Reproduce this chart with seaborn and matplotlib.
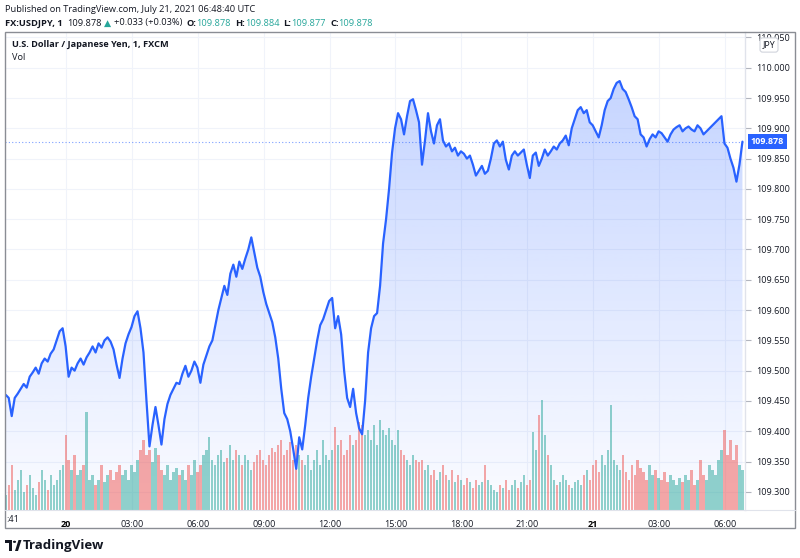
import numpy as np
import pandas as pd
import matplotlib
matplotlib.use("Agg")
import matplotlib.pyplot as plt
import matplotlib.dates as mdates
from matplotlib.patches import Rectangle, Polygon, Circle
from matplotlib.lines import Line2D
from matplotlib.colors import LinearSegmentedColormap
import seaborn as sns

prices = [
    109.460, 109.455, 109.425, 109.455, 109.462, 109.470, 109.478, 109.472, 109.490, 109.497,
    109.505, 109.495, 109.512, 109.520, 109.515, 109.528, 109.535, 109.550, 109.565, 109.570,
    109.540, 109.490, 109.505, 109.500, 109.512, 109.520, 109.510, 109.522, 109.530, 109.540,
    109.530, 109.545, 109.538, 109.550, 109.555, 109.548, 109.535, 109.510, 109.488, 109.520,
    109.545, 109.560, 109.572, 109.590, 109.598, 109.570, 109.530, 109.450, 109.375, 109.410,
    109.440, 109.410, 109.378, 109.420, 109.445, 109.460, 109.470, 109.480, 109.478, 109.495,
    109.508, 109.490, 109.500, 109.515, 109.505, 109.480, 109.510, 109.525, 109.540, 109.550,
    109.575, 109.600, 109.620, 109.640, 109.625, 109.660, 109.675, 109.655, 109.680, 109.668,
    109.685, 109.700, 109.720, 109.695, 109.670, 109.655, 109.630, 109.610, 109.595, 109.580,
    109.555, 109.520, 109.470, 109.430, 109.420, 109.400, 109.370, 109.338, 109.390, 109.370,
    109.410, 109.455, 109.490, 109.520, 109.550, 109.575, 109.585, 109.600, 109.615, 109.620,
    109.570, 109.590, 109.560, 109.500, 109.455, 109.440, 109.470, 109.430, 109.405, 109.395,
    109.450, 109.530, 109.570, 109.590, 109.595, 109.640, 109.710, 109.750, 109.800, 109.860,
    109.900, 109.925, 109.915, 109.890, 109.920, 109.945, 109.948, 109.930, 109.910, 109.840,
    109.880, 109.925, 109.895, 109.875, 109.905, 109.915, 109.880, 109.870, 109.875, 109.862,
    109.868, 109.855, 109.862, 109.858, 109.850, 109.855, 109.840, 109.822, 109.830, 109.838,
    109.825, 109.830, 109.850, 109.875, 109.880, 109.870, 109.878, 109.848, 109.832, 109.855,
    109.862, 109.855, 109.860, 109.865, 109.840, 109.818, 109.855, 109.860, 109.838, 109.850,
    109.865, 109.855, 109.862, 109.870, 109.865, 109.875, 109.880, 109.888, 109.872, 109.900,
    109.915, 109.930, 109.935, 109.925, 109.930, 109.910, 109.905, 109.895, 109.885, 109.905,
    109.930, 109.945, 109.950, 109.965, 109.975, 109.978, 109.965, 109.960, 109.948, 109.935,
    109.920, 109.915, 109.890, 109.885, 109.870, 109.882, 109.890, 109.885, 109.895, 109.892,
    109.885, 109.878, 109.890, 109.898, 109.902, 109.905, 109.895, 109.900, 109.903, 109.898,
    109.895, 109.905, 109.900, 109.890, 109.895, 109.900, 109.905, 109.910, 109.915, 109.920,
    109.875, 109.868, 109.850, 109.835, 109.812, 109.840, 109.878,
]

volumes = [
    15, 25, 45, 20, 30, 40, 18, 25, 35, 22, 15, 28, 40, 30, 20, 35, 25, 30, 40,
    45, 75, 50, 40, 55, 35, 40, 45, 98, 30, 35, 25, 30, 45, 28, 35, 40, 30, 38, 45,
    35, 40, 30, 45, 38, 50, 60, 70, 55, 60, 48, 62, 55, 40, 35, 45, 30, 38, 42, 35,
    40, 30, 45, 35, 50, 38, 45, 55, 60, 73, 50, 45, 55, 60, 48, 52, 65, 50, 60, 55,
    45, 55, 50, 40, 48, 55, 60, 50, 45, 55, 62, 58, 65, 70, 55, 60, 68, 50, 65, 55,
    50, 45, 55, 40, 50, 60, 45, 70, 55, 50, 60, 83, 65, 70, 55, 60, 75, 65, 70, 88,
    85, 75, 80, 70, 85, 65, 90, 80, 75, 82, 70, 65, 80, 60, 55, 50, 45, 55, 50, 48,
    50, 40, 45, 35, 40, 30, 38, 45, 35, 30, 40, 28, 35, 30, 25, 32, 28, 22, 30, 25,
    28, 45, 30, 25, 20, 18, 25, 22, 30, 20, 25, 30, 22, 28, 35, 25, 30, 78, 60, 95,
    110, 75, 55, 45, 30, 25, 28, 35, 30, 25, 22, 28, 30, 25, 35, 40, 30, 45, 50, 38,
    55, 45, 60, 105, 50, 45, 40, 55, 38, 30, 45, 35, 50, 42, 38, 30, 45, 35, 40, 32,
    30, 38, 28, 35, 30, 25, 32, 28, 35, 30, 40, 25, 30, 50, 35, 30, 45, 40, 35, 50,
    60, 80, 55, 70, 50, 65, 45, 40,
]

start_time = "2021-07-19 21:15"
end_time = "2021-07-21 06:48"

price_ticks = [109.300, 109.350, 109.400, 109.450, 109.500, 109.550, 109.600, 109.650,
               109.700, 109.750, 109.800, 109.850, 109.900, 109.950, 110.000, 110.050]
time_ticks = ["2021-07-20 00:00", "2021-07-20 03:00", "2021-07-20 06:00", "2021-07-20 09:00",
              "2021-07-20 12:00", "2021-07-20 15:00", "2021-07-20 18:00", "2021-07-20 21:00",
              "2021-07-21 00:00", "2021-07-21 03:00", "2021-07-21 06:00"]
time_labels = ["20", "03:00", "06:00", "09:00", "12:00", "15:00", "18:00", "21:00",
               "21", "03:00", "06:00"]
bold_labels = ["20", "21"]

last_price = 109.878

BLUE = "#2962FF"
UP = "#26A69A"
DOWN = "#EF5350"
TXT = "#131722"
GRID = "#F0F3FA"

sns.set_style("white")
plt.rcParams['font.family'] = ['Open Sans', 'DejaVu Sans']

W, H = 800, 558


def fx(x):
    return x / W


def fy(y):
    return 1 - y / H


df = pd.DataFrame({
    "time": pd.date_range(start_time, end_time, periods=len(prices)),
    "price": prices,
    "volume": volumes,
})
diff = df.price.diff().fillna(0)
bar_colors = [UP if d >= 0 else DOWN for d in diff]

fig = plt.figure(figsize=(8, 5.58), dpi=100)
rect = [fx(5), fy(510), (745 - 5) / W, (510 - 32) / H]

ax = fig.add_axes(rect)
vax = ax.twinx()
lax = ax.twinx()

x_lo = pd.Timestamp("2021-07-19 21:13")
x_hi = pd.Timestamp("2021-07-21 06:55")
y_lo, y_hi = 109.270, 110.059

# gradient area under the line
poly = ax.fill_between(df.time, df.price, y_lo, color="none")
grad = np.linspace(0, 1, 256).reshape(-1, 1)
cmap = LinearSegmentedColormap.from_list(
    "area", [(41 / 255, 98 / 255, 1, 0.02), (41 / 255, 98 / 255, 1, 0.27)])
img = ax.imshow(grad, cmap=cmap, aspect="auto", origin="lower", zorder=1,
                extent=[mdates.date2num(x_lo), mdates.date2num(x_hi), y_lo, 109.98])
img.set_clip_path(poly.get_paths()[0], transform=ax.transData)

ax.set_xlim(x_lo, x_hi)
ax.set_ylim(y_lo, y_hi)
ax.set_yticks(price_ticks)
ax.set_xticks(pd.to_datetime(time_ticks))
ax.set_xticklabels(time_labels)
ax.grid(True, color=GRID, linewidth=0.8)
ax.tick_params(axis="y", left=False, labelleft=False)
ax.tick_params(axis="x", bottom=False, labelsize=6.5, labelcolor=TXT, pad=4)
for lab in ax.get_xticklabels():
    if lab.get_text() in bold_labels:
        lab.set_fontweight("bold")
        lab.set_color("black")

# volume bars
spacing = (df.time.iloc[1] - df.time.iloc[0]) / pd.Timedelta(days=1)
vax.bar(df.time, df.volume, width=spacing * 0.75, color=bar_colors, alpha=0.5, linewidth=0)
vax.set_ylim(0, 478)
vax.set_yticks([])
vax.set_xlim(x_lo, x_hi)

# price line
sns.lineplot(data=df, x="time", y="price", ax=lax, color=BLUE, linewidth=1.6)
lax.axhline(last_price, color=BLUE, linestyle=(0, (1, 2)), linewidth=0.8, alpha=0.6)
lax.set_xlim(x_lo, x_hi)
lax.set_ylim(y_lo, y_hi)
lax.set_yticks(price_ticks)
lax.set_yticklabels([f"{p:.3f}" for p in price_ticks])
lax.set_xlabel("")
lax.set_ylabel("")
lax.tick_params(axis="y", right=True, length=4, width=0.8, color="#B2B5BE",
                labelsize=6.5, labelcolor=TXT, pad=4)

for a in (ax, vax, lax):
    for side in ("top", "left", "bottom"):
        a.spines[side].set_visible(False)
    a.spines["right"].set_color("#E0E3EB")
    a.spines["right"].set_linewidth(0.8)

# last price tag
lax.annotate(f"{last_price:.3f}", xy=(1.0, last_price), xycoords=("axes fraction", "data"),
             xytext=(4, 0), textcoords="offset points", va="center", ha="left",
             fontsize=6.5, color="white", fontweight="bold",
             bbox=dict(boxstyle="square,pad=0.3", fc=BLUE, ec="none"),
             annotation_clip=False)

# frame and separators
fig.add_artist(Rectangle((fx(5), fy(528)), (795 - 5) / W, (528 - 32) / H,
                         transform=fig.transFigure, fill=False, ec="#8A8D94", lw=1))
fig.add_artist(Line2D([fx(5), fx(795)], [fy(510), fy(510)],
                      transform=fig.transFigure, color="#E0E3EB", lw=0.8))

# JPY badge (sits over the top price label, as in the original)
fig.text(fx(769), fy(45), "JPY", fontsize=6.3, color=TXT, ha="center", va="center",
         bbox=dict(boxstyle="round,pad=0.3", fc="white", ec="#D1D4DC", lw=0.8))

fig.text(fx(6), fy(520), ":41", fontsize=6.5, color=TXT, ha="left", va="center")

# header
fig.text(fx(5), fy(9), "Published on TradingView.com, July 21, 2021 06:48:40 UTC",
         fontsize=6.7, color=TXT, va="center")

pieces = [
    ("FX:USDJPY, 1", "bold", TXT, 0),
    ("109.878", "normal", TXT, 3),
    ("▲", "normal", UP, 2),
    ("+0.033 (+0.03%)", "normal", TXT, 2),
    ("O:", "bold", TXT, 3),
    ("109.878", "normal", UP, 0),
    ("H:", "bold", TXT, 3),
    ("109.884", "normal", UP, 0),
    ("L:", "bold", TXT, 3),
    ("109.877", "normal", UP, 0),
    ("C:", "bold", TXT, 3),
    ("109.878", "normal", UP, 0),
]
prev = fig.text(fx(5), fy(23), pieces[0][0], fontsize=6.7, fontweight=pieces[0][1],
                color=pieces[0][2], va="center")
for txt, wt, col, gap in pieces[1:]:
    prev = ax.annotate(txt, xy=(1, 0.5), xycoords=prev, xytext=(gap, 0),
                       textcoords="offset points", va="center", ha="left",
                       fontsize=6.7, fontweight=wt, color=col, annotation_clip=False)

fig.text(fx(12), fy(44), "U.S. Dollar / Japanese Yen, 1, FXCM", fontsize=6.6,
         fontweight="bold", color=TXT, va="center")
fig.text(fx(12), fy(57), "Vol", fontsize=6.6, color=TXT, va="center")

# TradingView logo
logo = "#131722"
fig.add_artist(Rectangle((fx(5), fy(543)), 7 / W, 3 / H, transform=fig.transFigure,
                         fc=logo, ec="none"))
fig.add_artist(Rectangle((fx(9), fy(551)), 3 / W, 8 / H, transform=fig.transFigure,
                         fc=logo, ec="none"))
fig.add_artist(Circle((fx(14.5), fy(541.8)), 1.6 / W, transform=fig.transFigure,
                      fc=logo, ec="none"))
fig.add_artist(Polygon([(fx(15), fy(551)), (fx(18.5), fy(540)), (fx(21.5), fy(540)),
                        (fx(18), fy(551))], closed=True, transform=fig.transFigure,
                       fc=logo, ec="none"))
fig.text(fx(23), fy(545.5), "TradingView", fontsize=9.5, fontweight="bold",
         color=logo, va="center")

fig.savefig("out.png", dpi=100)
